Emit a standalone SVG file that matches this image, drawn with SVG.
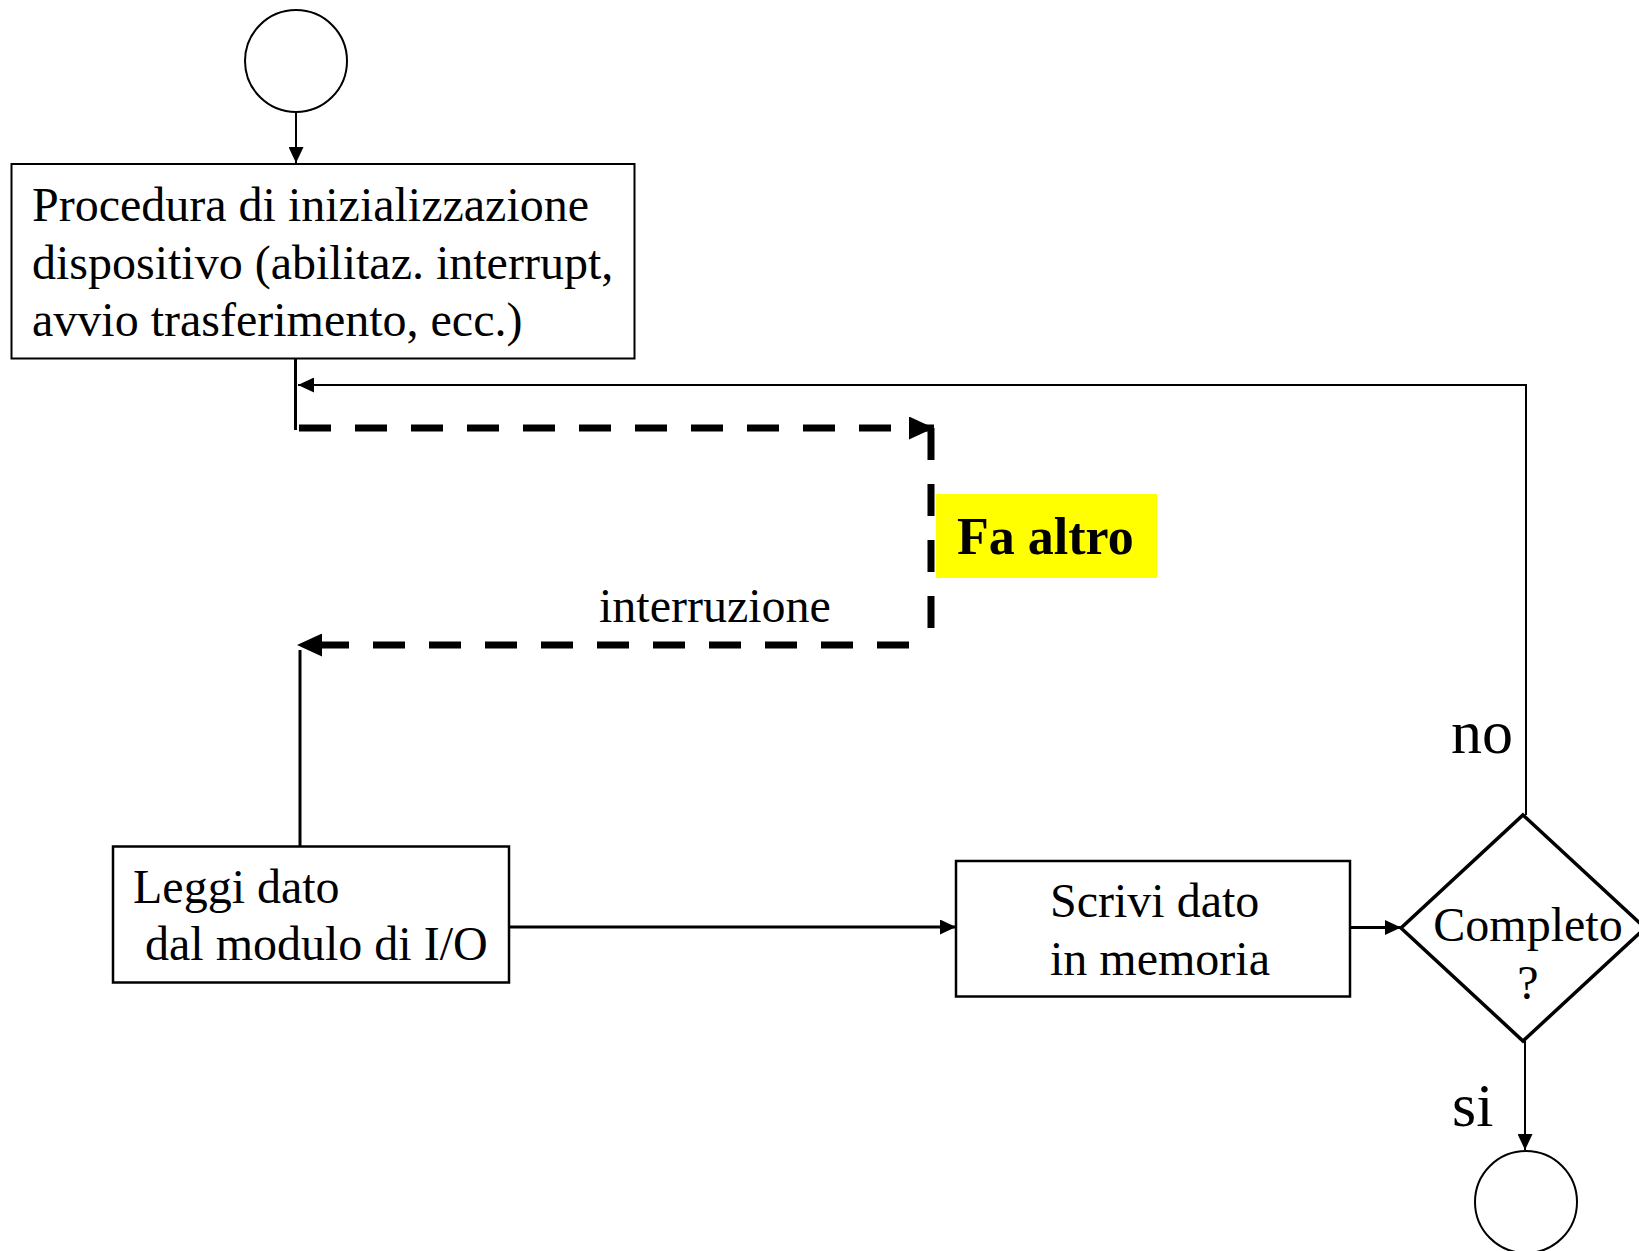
<svg xmlns="http://www.w3.org/2000/svg" width="1639" height="1251" viewBox="0 0 1639 1251">
  <style>
    .shape { fill: #ffffff; stroke: #000000; }
    .txt { font-family: "Liberation Serif", "Times New Roman", serif; fill: #000000; }
    .lbl { font-size: 48px; }
    .big { font-size: 62px; }
    .wire { fill: none; stroke: #000000; }
    .dash { fill: none; stroke: #000000; stroke-width: 7; stroke-dasharray: 32 24; }
  </style>
  <defs>
    <marker id="arrow" markerUnits="userSpaceOnUse" markerWidth="16" markerHeight="15" refX="16" refY="7.5" orient="auto">
      <path d="M0,0 L16,7.5 L0,15 Z" fill="#000000"/>
    </marker>
    <marker id="arrowBig" markerUnits="userSpaceOnUse" markerWidth="25" markerHeight="23" refX="25" refY="11.5" orient="auto">
      <path d="M0,0 L25,11.5 L0,23 Z" fill="#000000"/>
    </marker>
  </defs>

  <!-- connectors -->
  <g id="connectors">
    <line class="wire" x1="296" y1="112" x2="296" y2="163" stroke-width="2" marker-end="url(#arrow)"/>
    <line class="wire" x1="295.5" y1="358" x2="295.5" y2="430" stroke-width="3"/>
    <polyline class="wire" points="1526,815 1526,385 298,385" stroke-width="2" marker-end="url(#arrow)"/>
    <line class="dash" x1="299" y1="428" x2="934" y2="428" marker-end="url(#arrowBig)"/>
    <line class="dash" x1="931" y1="428" x2="931" y2="645"/>
    <line class="dash" x1="909" y1="645" x2="297" y2="645" marker-end="url(#arrowBig)"/>
    <line class="wire" x1="300" y1="847" x2="300" y2="650" stroke-width="3"/>
    <line class="wire" x1="509" y1="927" x2="956" y2="927" stroke-width="3" marker-end="url(#arrow)"/>
    <line class="wire" x1="1350" y1="927.5" x2="1401" y2="927.5" stroke-width="3" marker-end="url(#arrow)"/>
    <line class="wire" x1="1525" y1="1041" x2="1525" y2="1150" stroke-width="2" marker-end="url(#arrow)"/>
    <text class="txt lbl" x="599" y="622">interruzione</text>
    <text class="txt big" x="1451" y="753">no</text>
    <text class="txt big" x="1452" y="1126">si</text>
  </g>

  <g id="start">
    <circle class="shape" cx="296" cy="61" r="51" stroke-width="2"/>
  </g>

  <g id="init">
    <rect class="shape" x="11.5" y="164" width="623" height="194.5" stroke-width="2"/>
    <text class="txt lbl" x="32" y="221">Procedura di inizializzazione</text>
    <text class="txt lbl" x="32" y="278.5">dispositivo (abilitaz. interrupt,</text>
    <text class="txt lbl" x="32" y="336">avvio trasferimento, ecc.)</text>
  </g>

  <g id="other">
    <rect x="936" y="494" width="221" height="84" fill="#ffff00"/>
    <text class="txt" x="957" y="554" font-size="52" font-weight="bold">Fa altro</text>
  </g>

  <g id="read">
    <rect class="shape" x="113" y="846.5" width="396" height="136" stroke-width="2.5"/>
    <text class="txt lbl" x="133" y="903">Leggi dato</text>
    <text class="txt lbl" x="145" y="960">dal modulo di I/O</text>
  </g>

  <g id="write">
    <rect class="shape" x="956" y="861" width="394" height="135.5" stroke-width="2.5"/>
    <text class="txt lbl" x="1050" y="917">Scrivi dato</text>
    <text class="txt lbl" x="1050" y="975">in memoria</text>
  </g>

  <g id="check">
    <polygon class="shape" points="1523,815 1645,928 1523,1041 1401,928" stroke-width="3.5"/>
    <text class="txt lbl" x="1528" y="941" text-anchor="middle">Completo</text>
    <text class="txt lbl" x="1528" y="999" text-anchor="middle">?</text>
  </g>

  <g id="end">
    <circle class="shape" cx="1526" cy="1202" r="51" stroke-width="2"/>
  </g>
</svg>
